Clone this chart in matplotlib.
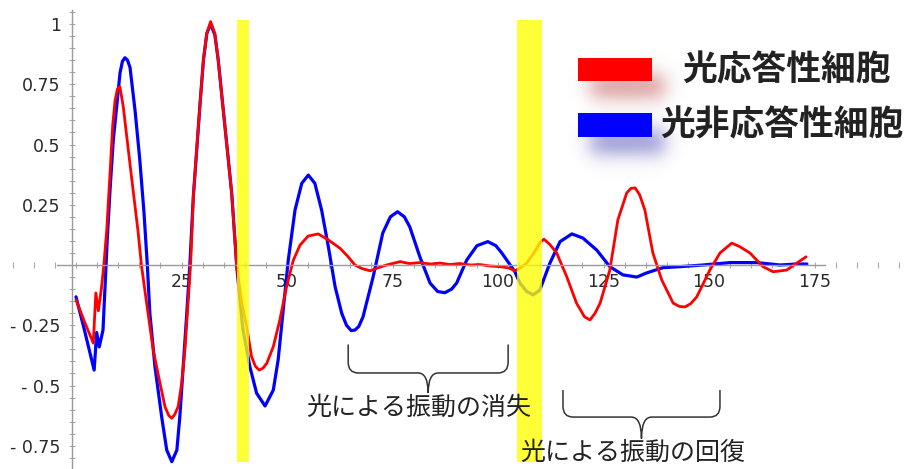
import numpy as np
import matplotlib
matplotlib.use('Agg')
import matplotlib.pyplot as plt
from matplotlib.path import Path
from matplotlib.patches import PathPatch, Rectangle
from matplotlib.colors import to_rgb

plt.rcParams['font.family'] = ['DejaVu Sans']
JP = ['Noto Sans CJK JP', 'DejaVu Sans']

# light-responsive cells
red_x = [0, 2.0, 4.1, 4.7, 5.3, 6.0, 6.6, 7.3, 8.06, 8.7, 9.24, 9.8, 10.4, 11.2, 12.4, 13.6,
         14.7, 15.5, 16.75, 18.3, 19.9, 21.1, 22.0, 22.7, 23.4, 24.2, 25.05, 25.8, 26.6,
         27.2, 27.8, 28.6, 29.4, 30.2, 31.0, 31.9, 32.9, 33.7, 34.5, 35.3, 36.1, 36.9,
         38.1, 39.3, 40.45, 41.6, 42.5, 43.4, 44.3, 45.2, 46.75, 48.3, 49.9, 51.5, 53.1,
         55.0, 57.4, 59.8, 62.6, 64.5, 66.1, 67.8, 69.7, 71.5, 73.6, 76.8, 79.0, 81.5,
         84.0, 86.3, 88.5, 91.0, 93.5, 95.7, 98.0, 100.5, 102.5, 104.0, 105.5, 106.8,
         108.5, 110.0, 110.9, 112.3, 113.9, 116.3, 118.6, 120.5, 121.8, 123.0, 124.2,
         126.5, 128.4, 130.5, 131.5, 132.5, 133.6, 134.8, 136.7, 138.8, 141.5, 143.0,
         144.3, 145.7, 147.1, 150.2, 152.6, 155.4, 157.3, 159.7, 162.8, 165.2, 168.4,
         170.8, 173.0]
red_y = [-0.145, -0.235, -0.324, -0.116, -0.19, -0.1, 0.0, 0.15, 0.38, 0.58, 0.68, 0.73,
         0.74, 0.657, 0.477, 0.3, 0.14, 0.0, -0.16, -0.353, -0.49, -0.589, -0.625, -0.636,
         -0.62, -0.588, -0.49, -0.353, -0.145, 0.02, 0.283, 0.477, 0.671, 0.851, 0.961,
         1.01, 0.961, 0.851, 0.712, 0.574, 0.436, 0.297, -0.008, -0.16, -0.256, -0.38,
         -0.42, -0.436, -0.428, -0.408, -0.339, -0.228, -0.09, 0.02, 0.083, 0.12, 0.129,
         0.104, 0.069, 0.034, 0.0, -0.015, -0.024, -0.012, 0.0, 0.014, 0.006, 0.010, 0.004,
         0.008, 0.002, 0.006, 0.0, 0.002, -0.004, -0.007, -0.012, -0.024, -0.01, 0.008,
         0.05, 0.095, 0.107, 0.085, 0.05, -0.049, -0.158, -0.215, -0.228, -0.2, -0.158,
         -0.021, 0.187, 0.299, 0.318, 0.32, 0.29, 0.228, 0.05, -0.062, -0.158, -0.172,
         -0.174, -0.16, -0.132, -0.021, 0.05, 0.091, 0.076, 0.05, -0.007, -0.028, -0.021,
         0.008, 0.034]

# light-unresponsive cells
blue_x = [0, 2.0, 4.3, 4.9, 5.5, 6.4, 7.4, 8.06, 8.84, 9.64, 10.43, 11.0, 11.6, 12.2, 12.8,
          14.0, 15.1, 16.1, 16.9, 17.5, 18.7, 20.3, 21.5, 22.7, 23.9, 24.6, 25.4, 26.2,
          27.0, 27.8, 28.6, 29.4, 30.2, 31.0, 31.9, 32.9, 33.7, 34.5, 35.3, 36.1, 36.9,
          38.1, 39.5, 41.2, 42.8, 44.8, 46.75, 47.9, 49.1, 50.3, 51.9, 53.5, 55.05, 56.6,
          58.2, 59.8, 61.4, 62.96, 64.1, 65.2, 66.1, 67.0, 68.0, 70.4, 72.7, 74.5, 76.2,
          77.8, 79.1, 81.5, 83.9, 85.7, 87.4, 89.0, 90.2, 92.6, 95.0, 97.6, 99.5, 100.9,
          104.0, 105.2, 106.8, 108.3, 109.9, 112.3, 114.7, 117.5, 120.1, 123.4, 126.5,
          129.6, 132.9, 135.2, 139.1, 143.1, 148.6, 155.0, 161.3, 166.8, 170.8, 173.2]
blue_y = [-0.132, -0.27, -0.436, -0.28, -0.34, -0.27, 0.104, 0.311, 0.519, 0.657, 0.797,
          0.845, 0.86, 0.85, 0.82, 0.64, 0.44, 0.22, 0.0, -0.2, -0.42, -0.63, -0.768,
          -0.816, -0.768, -0.63, -0.422, -0.214, 0.008, 0.283, 0.477, 0.671, 0.851, 0.961,
          1.0, 0.955, 0.851, 0.712, 0.574, 0.436, 0.297, -0.008, -0.26, -0.422, -0.532,
          -0.585, -0.519, -0.394, -0.187, 0.02, 0.228, 0.339, 0.373, 0.339, 0.228, 0.076,
          -0.09, -0.2, -0.25, -0.272, -0.27, -0.255, -0.216, -0.05, 0.133, 0.2, 0.221,
          0.2, 0.158, 0.033, -0.075, -0.11, -0.115, -0.1, -0.075, 0.021, 0.08, 0.097, 0.08,
          0.05, -0.028, -0.075, -0.11, -0.124, -0.104, 0.008, 0.097, 0.129, 0.112, 0.062,
          -0.007, -0.041, -0.05, -0.033, -0.011, -0.007, 0.0, 0.01, 0.01, 0.0, 0.004, 0.004]

series_labels = ['光応答性細胞', '光非応答性細胞']
light_start = [38.2, 104.5]
light_end = [41.0, 110.4]
x_ticks = [25, 50, 75, 100, 125, 150, 175]
y_ticks = [1, 0.75, 0.5, 0.25, -0.25, -0.5, -0.75]
y_tick_labels = ['1', '0.75', '0.5', '0.25', '- 0.25', '- 0.5', '- 0.75']
brace_text = ['光による振動の消失', '光による振動の回復']
brace_x0 = [64.5, 115.4]
brace_x1 = [102.4, 152.6]
text_x = [81.2, 132.0]

W, H = 910, 469
x0px, xscale = 76, 4.22
y0px, yscale = 265, 241

fig = plt.figure(figsize=(W / 100, H / 100), dpi=100)
ax = fig.add_axes([0, 0, 1, 1])
ax.set_xlim(-x0px / xscale, (W - x0px) / xscale)
ax.set_ylim(-(H - y0px) / yscale, y0px / yscale)

ax.plot(blue_x, blue_y, c='#0000ff', lw=2.3, solid_joinstyle='round',
        solid_capstyle='round', zorder=2)
ax.plot(red_x, red_y, c='#ff0000', lw=2.0, solid_joinstyle='round',
        solid_capstyle='round', zorder=2.1)

for a, b in zip(light_start, light_end):
    ax.axvspan(a, b, ymin=7 / H, ymax=1 - 20 / H, color='#ffff00', alpha=0.78, lw=0, zorder=3)

for s in ['top', 'right']:
    ax.spines[s].set_visible(False)
ax.spines['left'].set_position(('data', -1))
ax.spines['bottom'].set_position(('data', 0))
ax.spines['left'].set_bounds(-0.85, 1.06)
ax.spines['bottom'].set_bounds(-4.5, 177.5)
for s in ['left', 'bottom']:
    ax.spines[s].set_color('#9a9a9a')
    ax.spines[s].set_linewidth(1)

ax.set_xticks(x_ticks)
ax.set_xticklabels([str(t) for t in x_ticks])
ax.set_yticks(y_ticks)
ax.set_yticklabels(y_tick_labels)
ax.xaxis.set_minor_locator(matplotlib.ticker.MultipleLocator(5))
ax.yaxis.set_minor_locator(matplotlib.ticker.MultipleLocator(0.05))
ax.tick_params(which='both', direction='inout', length=4, width=0.8, color='#aaaaaa',
               labelsize=12.5, labelcolor='#2a2a2a')
ax.tick_params(axis='x', pad=4)
ax.tick_params(axis='y', pad=6)
ax.patch.set_alpha(0)


def brace(ax, xa, xb, ytop, ymid, ytip, rx=2.4, ry=0.045):
    xc = (xa + xb) / 2
    verts = [(xa, ytop), (xa, ymid + ry), (xa, ymid), (xa + rx, ymid),
             (xc - rx, ymid), (xc, ymid), (xc, ytip),
             (xc, ymid), (xc + rx, ymid),
             (xb - rx, ymid), (xb, ymid), (xb, ymid + ry), (xb, ytop)]
    codes = [Path.MOVETO, Path.LINETO, Path.CURVE3, Path.CURVE3,
             Path.LINETO, Path.CURVE3, Path.CURVE3,
             Path.CURVE3, Path.CURVE3,
             Path.LINETO, Path.CURVE3, Path.CURVE3, Path.LINETO]
    ax.add_patch(PathPatch(Path(verts, codes), fc='none', ec='#333333', lw=1.1, zorder=4))


brace_tops = [-0.33, -0.519]
brace_mids = [-0.448, -0.631]
brace_tips = [-0.531, -0.72]
text_y = [-0.593, -0.78]
for i in range(2):
    brace(ax, brace_x0[i], brace_x1[i], brace_tops[i], brace_mids[i], brace_tips[i])
    ax.text(text_x[i], text_y[i], brace_text[i], family=JP,
            fontsize=18, color='#222222', ha='center', va='center', zorder=5)

# legend drawn in pixel space
ov = fig.add_axes([0, 0, 1, 1], zorder=5)
ov.patch.set_alpha(0)
ov.axis('off')


def glow(ov, x0, y0, x1, y1, color, dx, dy, s, a):
    xs = np.arange(x0 - 40, x1 + 70)
    ys = np.arange(y0 - 30, y1 + 70)
    fx = 0.5 * (np.tanh((xs - (x0 + dx)) / s) - np.tanh((xs - (x1 + dx)) / s))
    fy = 0.5 * (np.tanh((ys - (y0 + dy)) / s) - np.tanh((ys - (y1 + dy)) / s))
    rgba = np.zeros((len(ys), len(xs), 4))
    rgba[..., :3] = to_rgb(color)
    rgba[..., 3] = a * np.outer(fy, fx)
    ov.imshow(rgba, extent=(xs[0], xs[-1] + 1, ys[-1] + 1, ys[0]),
              interpolation='bilinear', aspect='auto')


leg_colors = ['#ff0000', '#0000ff']
glow_colors = ['#b03030', '#2828a8']
leg_boxes = [(578, 58, 652, 81), (578, 113, 652, 137)]
leg_text_x = [682, 660]
for i, (bx0, by0, bx1, by1) in enumerate(leg_boxes):
    glow(ov, bx0, by0, bx1, by1, glow_colors[i], 12, 16, 11, 0.5)
    ov.add_patch(Rectangle((bx0, by0), bx1 - bx0, by1 - by0, color=leg_colors[i], lw=0))
    ov.text(leg_text_x[i], (by0 + by1) / 2, series_labels[i], family=JP, fontsize=25,
            fontweight='bold', color='#222222', ha='left', va='center')
ov.set_xlim(0, W)
ov.set_ylim(H, 0)

fig.savefig('out.png', dpi=100)
